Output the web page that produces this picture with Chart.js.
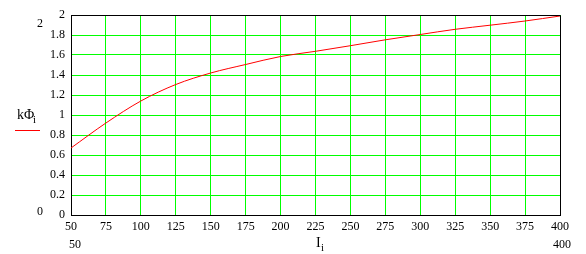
<!DOCTYPE html>
<html>
<head>
<meta charset="utf-8">
<script src="https://cdn.jsdelivr.net/npm/chart.js@4.4.1/dist/chart.umd.min.js"></script>
<style>
    body { margin: 0; background: #fff; }
    #wrap { width: 586px; height: 254px; position: relative; }
</style>
</head>
<body>
<div id="wrap"><canvas id="chart1"></canvas></div>
<script>
// current I_i and flux kΦ_i
var currentI = [50, 75, 100, 125, 150, 175, 200, 225, 250, 275, 300, 325, 350, 375, 400];
var fluxK = [0.67, 0.92, 1.14, 1.305, 1.42, 1.505, 1.585, 1.637, 1.693, 1.752, 1.805, 1.857, 1.898, 1.94, 1.99];

var xMin = 50, xMax = 400, xStep = 25;
var yMin = 0, yMax = 2, yStep = 0.2;

var gridGreen = '#00ff00';
var serif = "'Liberation Serif', 'DejaVu Serif', serif";

// mathcad style extra labels (limits, axis names) + black frame
var extraLabels = {
    id: 'extraLabels',
    afterDatasetsDraw: function (chart) {
        var ctx = chart.ctx;
        var a = chart.chartArea;
        ctx.save();
        ctx.strokeStyle = '#000';
        ctx.lineWidth = 1;
        ctx.beginPath();
        ctx.moveTo(Math.round(a.left) + 0.5, Math.round(a.top) + 0.5);
        ctx.lineTo(Math.round(a.right) + 0.5, Math.round(a.top) + 0.5);
        ctx.lineTo(Math.round(a.right) + 0.5, Math.round(a.bottom) + 0.5);
        ctx.stroke();

        ctx.fillStyle = '#000';
        ctx.textBaseline = 'middle';
        ctx.textAlign = 'center';
        ctx.font = '12px ' + serif;
        ctx.fillText(String(yMax), 40, 24);
        ctx.fillText(String(yMin), 40, 212);
        ctx.fillText(String(xMin), 75, 245);
        ctx.fillText(String(xMax), 562, 245);

        // x axis name I_i
        ctx.textAlign = 'left';
        ctx.font = '14px ' + serif;
        ctx.fillText('I', 316, 243);
        ctx.font = '11px ' + serif;
        ctx.fillText('i', 321, 248);

        // y axis name kΦ_i
        ctx.font = '14px ' + serif;
        ctx.fillText('kΦ', 17, 115);
        ctx.font = '11px ' + serif;
        ctx.fillText('i', 33, 120);

        // legend line
        ctx.strokeStyle = '#ff0000';
        ctx.beginPath();
        ctx.moveTo(15, 130.5);
        ctx.lineTo(40, 130.5);
        ctx.stroke();
        ctx.restore();
    }
};

function drawChart() {
    const ctx1 = document.getElementById("chart1");
    var pts = currentI.map(function (v, i) {
        return { x: v, y: fluxK[i] };
    });

    var myChart = new Chart(ctx1, {
        type: 'line',
        data: {
            datasets: [{
                data: pts,
                borderColor: '#ff0000',
                borderWidth: 1,
                pointRadius: 0,
                cubicInterpolationMode: 'monotone',
                fill: false
            }]
        },
        options: {
            responsive: true,
            maintainAspectRatio: false,
            animation: false,
            layout: {
                padding: { top: 15, right: 26, bottom: 0, left: 0 }
            },
            plugins: {
                legend: { display: false },
                tooltip: { enabled: false }
            },
            scales: {
                x: {
                    type: 'linear',
                    min: xMin,
                    max: xMax,
                    afterFit: function (scale) { scale.height = 39; },
                    ticks: {
                        stepSize: xStep,
                        autoSkip: false,
                        maxRotation: 0,
                        padding: 5,
                        color: '#000',
                        font: { family: serif, size: 12 }
                    },
                    grid: {
                        drawTicks: false,
                        color: gridGreen,
                        lineWidth: 1
                    },
                    border: { color: '#000', width: 1 }
                },
                y: {
                    min: yMin,
                    max: yMax,
                    afterFit: function (scale) { scale.width = 71; },
                    ticks: {
                        stepSize: yStep,
                        padding: 6,
                        color: '#000',
                        font: { family: serif, size: 12 },
                        callback: function (value) {
                            return String(+value.toFixed(1));
                        }
                    },
                    grid: {
                        drawTicks: false,
                        color: gridGreen,
                        lineWidth: 1
                    },
                    border: { color: '#000', width: 1 }
                }
            }
        },
        plugins: [extraLabels]
    });
}

drawChart();
</script>
</body>
</html>
